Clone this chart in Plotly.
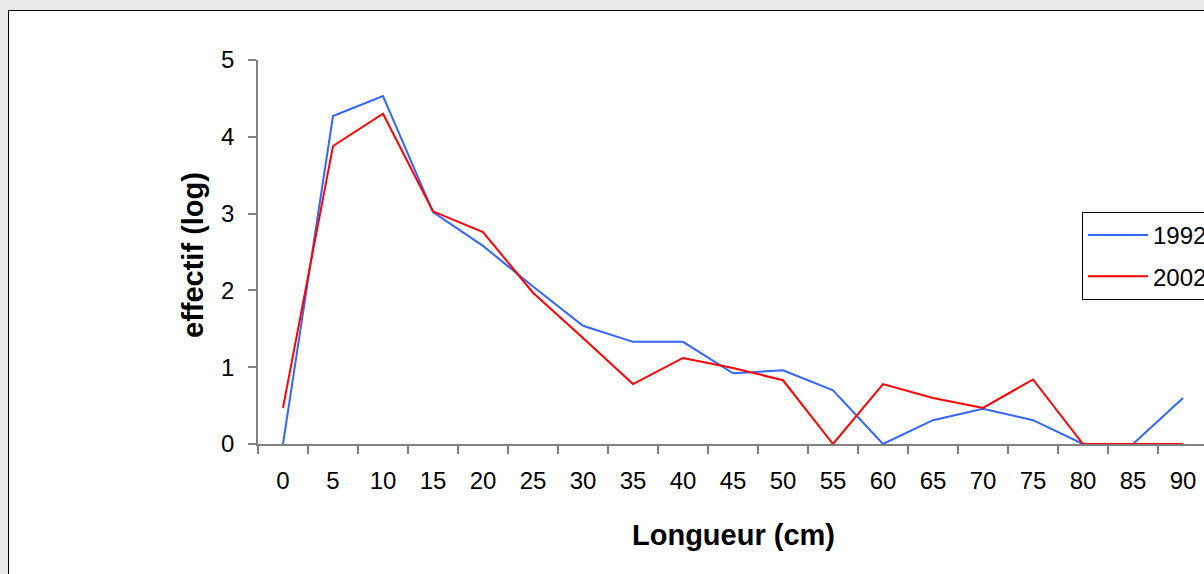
import plotly.graph_objects as go

categories = ["0", "5", "10", "15", "20", "25", "30", "35", "40", "45",
              "50", "55", "60", "65", "70", "75", "80", "85", "90"]
y1992 = [0.0, 4.27, 4.53, 3.02, 2.58, 2.05, 1.54, 1.33, 1.33, 0.92,
         0.96, 0.70, 0.0, 0.31, 0.46, 0.31, 0.0, 0.0, 0.60]
y2002 = [0.47, 3.88, 4.30, 3.03, 2.76, 1.97, 1.38, 0.78, 1.12, 0.99,
         0.83, 0.0, 0.78, 0.60, 0.47, 0.84, 0.0, 0.0, 0.0]

FONT = "Liberation Sans, Arial, sans-serif"

# plot area geometry (pixels)
L, R, T, B = 258, 1204, 60, 444
W, H = 1204, 574
pw, ph = R - L, B - T

def px(x):
    return (x - L) / pw

def py(y):
    return (B - y) / ph

fig = go.Figure()
fig.add_trace(go.Scatter(x=categories, y=y1992, mode="lines", name="1992",
                         line=dict(color="#3366ff", width=2), legendgroup="a"))
fig.add_trace(go.Scatter(x=categories, y=y2002, mode="lines", name="2002",
                         line=dict(color="#ff0000", width=2), legendgroup="b"))

fig.update_layout(
    width=W, height=H,
    margin=dict(l=L, r=W - R, t=T, b=H - B, autoexpand=False),
    paper_bgcolor="#ebebeb",
    plot_bgcolor="rgba(0,0,0,0)",
    font=dict(family=FONT, size=24, color="black"),
    showlegend=True,
    legend=dict(x=px(1082), y=py(212), xanchor="left", yanchor="top",
                bordercolor="black", borderwidth=1, bgcolor="white",
                font=dict(family=FONT, size=24, color="black"),
                tracegroupgap=7, traceorder="grouped",
                itemwidth=60),
    shapes=[dict(type="rect", xref="paper", yref="paper",
                 x0=px(8.5), x1=px(1260), y0=py(620), y1=py(10.5),
                 fillcolor="white", line=dict(color="black", width=1),
                 layer="below")],
    annotations=[
        dict(text="<b>effectif (log)</b>", xref="paper", yref="paper",
             x=px(193), y=py(255), xanchor="center", yanchor="middle",
             textangle=-90, showarrow=False,
             font=dict(family=FONT, size=29, color="black")),
        dict(text="<b>Longueur (cm)</b>", xref="paper", yref="paper",
             x=px(733), y=py(535), xanchor="center", yanchor="middle",
             showarrow=False,
             font=dict(family=FONT, size=29, color="black")),
    ],
)

fig.update_xaxes(
    type="category", range=[-0.5, (R - L) / 50 - 0.5],
    tickson="boundaries", ticks="outside", ticklen=8, tickcolor="#808080",
    tickwidth=1.5,
    showline=True, linecolor="#808080", linewidth=1.5,
    showgrid=False, zeroline=False, ticklabelstandoff=14,
    tickfont=dict(family=FONT, size=24, color="black"),
)
fig.update_yaxes(
    range=[0, 5], tickvals=[0, 1, 2, 3, 4, 5],
    ticks="outside", ticklen=8, tickcolor="#808080", tickwidth=1.5,
    showline=True, linecolor="#808080", linewidth=1.5,
    showgrid=False, zeroline=False, ticklabelstandoff=9,
    tickfont=dict(family=FONT, size=24, color="black"),
)

fig.write_html("out.html",
               config={"displayModeBar": False},
               post_script="document.body.style.margin='0';"
                           "document.body.style.overflow='hidden';")
